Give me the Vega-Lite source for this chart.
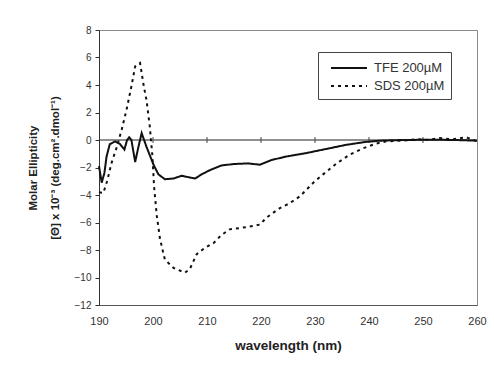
{
  "$schema": "https://vega.github.io/schema/vega-lite/v6.json",
  "width": 378,
  "height": 275,
  "autosize": "none",
  "padding": {"left": 99, "top": 30, "right": 17, "bottom": 63},
  "background": "white",
  "config": {
    "font": "Liberation Sans",
    "view": {"stroke": "#8a8a8a", "strokeWidth": 1}
  },
  "datasets": {
    "cd": [
      {"series": "TFE 200µM", "wl": 190.0, "val": -1.9},
      {"series": "TFE 200µM", "wl": 190.5, "val": -3.1},
      {"series": "TFE 200µM", "wl": 191.0, "val": -2.4},
      {"series": "TFE 200µM", "wl": 191.4, "val": -1.2},
      {"series": "TFE 200µM", "wl": 192.0, "val": -0.3},
      {"series": "TFE 200µM", "wl": 193.0, "val": -0.1},
      {"series": "TFE 200µM", "wl": 193.9, "val": -0.3},
      {"series": "TFE 200µM", "wl": 194.7, "val": -0.7},
      {"series": "TFE 200µM", "wl": 195.2, "val": 0.0},
      {"series": "TFE 200µM", "wl": 195.6, "val": 0.2},
      {"series": "TFE 200µM", "wl": 196.0, "val": 0.0},
      {"series": "TFE 200µM", "wl": 196.7, "val": -1.6},
      {"series": "TFE 200µM", "wl": 197.3, "val": -0.5},
      {"series": "TFE 200µM", "wl": 197.9, "val": 0.5},
      {"series": "TFE 200µM", "wl": 198.8, "val": -0.5},
      {"series": "TFE 200µM", "wl": 200.1, "val": -1.8},
      {"series": "TFE 200µM", "wl": 201.0, "val": -2.5},
      {"series": "TFE 200µM", "wl": 202.2, "val": -2.85},
      {"series": "TFE 200µM", "wl": 203.8, "val": -2.8},
      {"series": "TFE 200µM", "wl": 205.3, "val": -2.6},
      {"series": "TFE 200µM", "wl": 206.5, "val": -2.7},
      {"series": "TFE 200µM", "wl": 207.8, "val": -2.8},
      {"series": "TFE 200µM", "wl": 209.0, "val": -2.5},
      {"series": "TFE 200µM", "wl": 210.5, "val": -2.2},
      {"series": "TFE 200µM", "wl": 212.7, "val": -1.85},
      {"series": "TFE 200µM", "wl": 214.9, "val": -1.75},
      {"series": "TFE 200µM", "wl": 217.6, "val": -1.7},
      {"series": "TFE 200µM", "wl": 219.8, "val": -1.8},
      {"series": "TFE 200µM", "wl": 222.0, "val": -1.45},
      {"series": "TFE 200µM", "wl": 224.7, "val": -1.2},
      {"series": "TFE 200µM", "wl": 228.4, "val": -0.95},
      {"series": "TFE 200µM", "wl": 232.1, "val": -0.65},
      {"series": "TFE 200µM", "wl": 235.8, "val": -0.35},
      {"series": "TFE 200µM", "wl": 239.2, "val": -0.15},
      {"series": "TFE 200µM", "wl": 242.0, "val": -0.05},
      {"series": "TFE 200µM", "wl": 246.0, "val": 0.0},
      {"series": "TFE 200µM", "wl": 252.0, "val": 0.02},
      {"series": "TFE 200µM", "wl": 256.0, "val": 0.0},
      {"series": "TFE 200µM", "wl": 260.0, "val": -0.05},
      {"series": "SDS 200µM", "wl": 190.0, "val": -3.8},
      {"series": "SDS 200µM", "wl": 190.8, "val": -3.85},
      {"series": "SDS 200µM", "wl": 191.5, "val": -3.0},
      {"series": "SDS 200µM", "wl": 192.3, "val": -1.7},
      {"series": "SDS 200µM", "wl": 193.3, "val": -0.5},
      {"series": "SDS 200µM", "wl": 194.2, "val": 0.75},
      {"series": "SDS 200µM", "wl": 195.1, "val": 2.2},
      {"series": "SDS 200µM", "wl": 196.0, "val": 3.9},
      {"series": "SDS 200µM", "wl": 196.7, "val": 5.35},
      {"series": "SDS 200µM", "wl": 197.6, "val": 5.6},
      {"series": "SDS 200µM", "wl": 198.3, "val": 3.9},
      {"series": "SDS 200µM", "wl": 198.8, "val": 2.9},
      {"series": "SDS 200µM", "wl": 199.4, "val": 1.0},
      {"series": "SDS 200µM", "wl": 199.9, "val": -1.2},
      {"series": "SDS 200µM", "wl": 200.2, "val": -3.4},
      {"series": "SDS 200µM", "wl": 200.7, "val": -5.5},
      {"series": "SDS 200µM", "wl": 201.3, "val": -7.2},
      {"series": "SDS 200µM", "wl": 202.2, "val": -8.7},
      {"series": "SDS 200µM", "wl": 203.8, "val": -9.3},
      {"series": "SDS 200µM", "wl": 205.9, "val": -9.65},
      {"series": "SDS 200µM", "wl": 206.8, "val": -9.4},
      {"series": "SDS 200µM", "wl": 208.1, "val": -8.3},
      {"series": "SDS 200µM", "wl": 209.6, "val": -7.85},
      {"series": "SDS 200µM", "wl": 211.2, "val": -7.5},
      {"series": "SDS 200µM", "wl": 212.7, "val": -6.9},
      {"series": "SDS 200µM", "wl": 214.2, "val": -6.5},
      {"series": "SDS 200µM", "wl": 216.1, "val": -6.4},
      {"series": "SDS 200µM", "wl": 217.9, "val": -6.3},
      {"series": "SDS 200µM", "wl": 219.8, "val": -6.15},
      {"series": "SDS 200µM", "wl": 221.0, "val": -5.65},
      {"series": "SDS 200µM", "wl": 223.5, "val": -4.95},
      {"series": "SDS 200µM", "wl": 225.3, "val": -4.6},
      {"series": "SDS 200µM", "wl": 227.2, "val": -4.1},
      {"series": "SDS 200µM", "wl": 229.7, "val": -3.1},
      {"series": "SDS 200µM", "wl": 231.5, "val": -2.5},
      {"series": "SDS 200µM", "wl": 234.0, "val": -1.7},
      {"series": "SDS 200µM", "wl": 236.5, "val": -1.05},
      {"series": "SDS 200µM", "wl": 238.9, "val": -0.6},
      {"series": "SDS 200µM", "wl": 241.4, "val": -0.25},
      {"series": "SDS 200µM", "wl": 243.2, "val": -0.1},
      {"series": "SDS 200µM", "wl": 246.0, "val": -0.05},
      {"series": "SDS 200µM", "wl": 249.0, "val": 0.05},
      {"series": "SDS 200µM", "wl": 251.0, "val": 0.0},
      {"series": "SDS 200µM", "wl": 253.0, "val": 0.15},
      {"series": "SDS 200µM", "wl": 255.5, "val": 0.05},
      {"series": "SDS 200µM", "wl": 258.0, "val": 0.2},
      {"series": "SDS 200µM", "wl": 260.0, "val": -0.1}
    ],
    "zero": [{"wl": 190, "wl2": 260, "val": 0}],
    "ticks": [
      {"wl": 200, "val": 0}, {"wl": 210, "val": 0}, {"wl": 220, "val": 0},
      {"wl": 230, "val": 0}, {"wl": 240, "val": 0}, {"wl": 250, "val": 0}
    ]
  },
  "encoding": {
    "x": {
      "field": "wl", "type": "quantitative",
      "scale": {"domain": [190, 260], "nice": false, "zero": false},
      "axis": {
        "title": "wavelength (nm)",
        "values": [190, 200, 210, 220, 230, 240, 250, 260],
        "grid": false,
        "ticks": false,
        "labelOverlap": false,
        "domainColor": "#555",
        "labelFont": "Liberation Sans",
        "labelFontSize": 11,
        "labelColor": "#333",
        "labelPadding": 10,
        "labelFlush": false,
        "titleFont": "Liberation Sans",
        "titleFontSize": 13.5,
        "titleFontWeight": "bold",
        "titleColor": "#222",
        "titlePadding": 12
      }
    },
    "y": {
      "field": "val", "type": "quantitative",
      "scale": {"domain": [-12, 8], "nice": false},
      "axis": {
        "title": ["Molar Ellipticity", "[Θ] x 10⁻³ (deg.cm².dmol⁻¹)"],
        "values": [-12, -10, -8, -6, -4, -2, 0, 2, 4, 6, 8],
        "grid": false,
        "labelOverlap": false,
        "tickSize": 4,
        "tickColor": "#333",
        "domainColor": "#333",
        "labelFont": "Liberation Sans",
        "labelFontSize": 10,
        "labelColor": "#333",
        "labelPadding": 4,
        "labelFlush": false,
        "titleFont": "Liberation Sans",
        "titleFontSize": 11.5,
        "titleFontWeight": "bold",
        "titleColor": "#222",
        "titlePadding": 14,
        "titleLineHeight": 22
      }
    }
  },
  "layer": [
    {
      "data": {"name": "zero"},
      "mark": {"type": "rule", "color": "#222", "strokeWidth": 1.2},
      "encoding": {
        "x2": {"field": "wl2"}
      }
    },
    {
      "data": {"name": "ticks"},
      "mark": {"type": "tick", "orient": "vertical", "color": "#444", "size": 6, "thickness": 1, "opacity": 1},
      "encoding": {}
    },
    {
      "data": {"name": "cd"},
      "mark": {"type": "line", "color": "#111", "strokeWidth": 2},
      "encoding": {
        "strokeDash": {
          "field": "series", "type": "nominal",
          "scale": {"domain": ["TFE 200µM", "SDS 200µM"], "range": [[1, 0], [3, 4]]},
          "legend": {
            "title": null,
            "orient": "none",
            "legendX": 219,
            "legendY": 22,
            "strokeColor": "#444",
            "padding": 6,
            "symbolType": "M-2,0H2",
            "symbolSize": 324,
            "symbolOffset": 15,
            "symbolStrokeWidth": 2,
            "symbolStrokeColor": "#111",
            "labelFont": "Liberation Sans",
            "labelFontSize": 13,
            "labelColor": "#333",
            "labelOffset": 15,
            "rowPadding": 1
          }
        }
      }
    }
  ]
}
